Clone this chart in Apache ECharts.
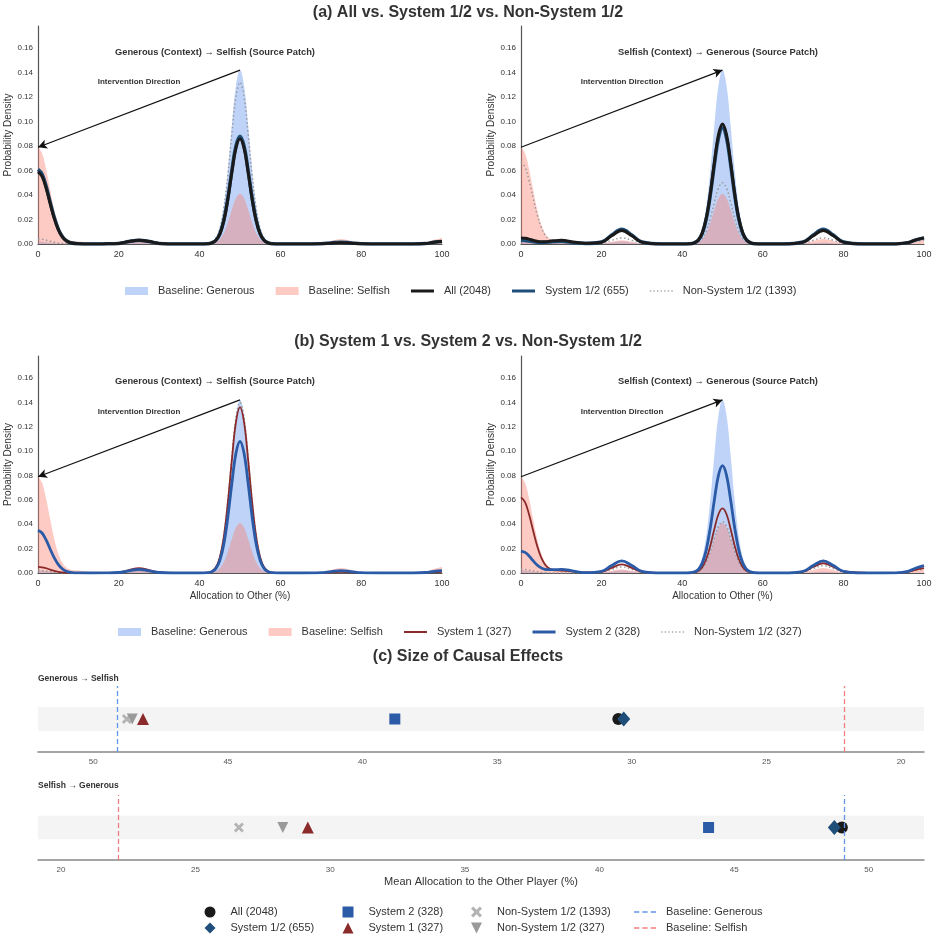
<!DOCTYPE html>
<html>
<head>
<meta charset="utf-8">
<script src="https://cdn.jsdelivr.net/npm/echarts@6/dist/echarts.min.js"></script>
<style>
  html, body { margin: 0; padding: 0; background: #fff; }
  #main { width: 937px; height: 940px; }
</style>
</head>
<body>
<div id="main"></div>
<script>
var FONT = 'Liberation Sans, Arial, sans-serif';

// shared x grid of the density curves (allocation to other, %)
var xs = [0, 1, 2, 3, 4, 5, 6, 7, 8, 10, 13, 16, 20, 22.5, 25, 27.5, 30, 35, 40,
  42, 43, 44, 45, 46, 47, 48, 49, 50, 51, 52, 53, 54, 55, 56, 57, 58,
  60, 65, 70, 72.5, 75, 77.5, 80, 85, 90, 93, 96, 98, 100];
var yTicks = [0, 0.02, 0.04, 0.06, 0.08, 0.10, 0.12, 0.14, 0.16];
var cTicks = [20, 25, 30, 35, 40, 45, 50];

// baselines (same in all four panels)
var baseGenerous = [0.002, 0.0019, 0.0015, 0.0011, 0.0007, 0.0004, 0.0002, 0.0001, 0,
  0, 0, 0, 0.0003, 0.0012, 0.002, 0.0012, 0.0003, 0, 0,
  0.0003, 0.0014, 0.0047, 0.0133, 0.0312, 0.0606, 0.0973, 0.1292, 0.142, 0.1292, 0.0973, 0.0606, 0.0312, 0.0133, 0.0047, 0.0014, 0.0003,
  0, 0, 0.0002, 0.0006, 0.001, 0.0006, 0.0002, 0, 0, 0, 0, 0, 0.0005];
var baseSelfish = [0.079, 0.0741, 0.0612, 0.0445, 0.0284, 0.0163, 0.0086, 0.0045, 0.0028,
  0.002, 0.001, 0.0002, 0.0004, 0.0018, 0.003, 0.0018, 0.0004, 0, 0,
  0.0001, 0.0004, 0.0014, 0.0039, 0.009, 0.0175, 0.0281, 0.0373, 0.041, 0.0373, 0.0281, 0.0175, 0.009, 0.0039, 0.0014, 0.0004, 0.0001,
  0, 0, 0.0005, 0.0024, 0.004, 0.0024, 0.0005, 0, 0, 0.0001, 0.0011, 0.0034, 0.005];

// (a) left: Generous -> Selfish
var aLeftAll = [0.059, 0.0553, 0.0457, 0.0332, 0.0212, 0.012, 0.006, 0.0026, 0.001,
  0.0002, 0, 0.0001, 0.0005, 0.002, 0.003, 0.002, 0.0005, 0, 0,
  0.0002, 0.0008, 0.0028, 0.0081, 0.0189, 0.0367, 0.0589, 0.0783, 0.086, 0.0783, 0.0589, 0.0367, 0.0189, 0.0081, 0.0028, 0.0008, 0.0002,
  0, 0, 0.0002, 0.0007, 0.001, 0.0007, 0.0002, 0, 0, 0, 0.0004, 0.0014, 0.002];
var aLeftSys12 = [0.061, 0.0572, 0.0473, 0.0343, 0.022, 0.0124, 0.0062, 0.0027, 0.001,
  0.0002, 0, 0.0001, 0.0005, 0.002, 0.003, 0.002, 0.0005, 0, 0,
  0.0002, 0.0009, 0.0029, 0.0083, 0.0194, 0.0376, 0.0603, 0.0801, 0.088, 0.0801, 0.0603, 0.0376, 0.0194, 0.0083, 0.0029, 0.0009, 0.0002,
  0, 0, 0.0002, 0.0009, 0.0015, 0.0009, 0.0002, 0, 0, 0, 0.0004, 0.0014, 0.002];
var aLeftNonSys = [0.004, 0.0038, 0.0031, 0.0023, 0.0014, 0.0008, 0.0004, 0.0002, 0.0001,
  0, 0, 0, 0.0003, 0.0012, 0.002, 0.0012, 0.0003, 0, 0,
  0.0003, 0.0013, 0.0044, 0.0124, 0.029, 0.0564, 0.0904, 0.1201, 0.132, 0.1201, 0.0904, 0.0564, 0.029, 0.0124, 0.0044, 0.0013, 0.0003,
  0, 0, 0.0001, 0.0005, 0.0008, 0.0005, 0.0001, 0, 0, 0, 0.0002, 0.0007, 0.001];

// (a) right: Selfish -> Generous
var aRightAll = [0.005, 0.0047, 0.004, 0.003, 0.0022, 0.0018, 0.0019, 0.0022, 0.0026,
  0.003, 0.0017, 0.0006, 0.0015, 0.0067, 0.011, 0.0067, 0.0015, 0, 0,
  0.0002, 0.001, 0.0032, 0.0092, 0.0216, 0.0418, 0.0671, 0.0892, 0.098, 0.0892, 0.0671, 0.0418, 0.0216, 0.0092, 0.0032, 0.001, 0.0002,
  0, 0, 0.0015, 0.0067, 0.011, 0.0067, 0.0015, 0, 0, 0.0001, 0.0011, 0.0034, 0.005];
var aRightSys12 = [0.003, 0.0028, 0.0024, 0.0019, 0.0015, 0.0013, 0.0014, 0.0016, 0.0018,
  0.002, 0.0011, 0.0004, 0.0016, 0.0073, 0.012, 0.0073, 0.0016, 0, 0,
  0.0002, 0.0009, 0.0031, 0.0089, 0.0209, 0.0406, 0.0651, 0.0865, 0.095, 0.0865, 0.0651, 0.0406, 0.0209, 0.0089, 0.0031, 0.0009, 0.0002,
  0, 0, 0.0016, 0.0073, 0.012, 0.0073, 0.0016, 0, 0, 0.0001, 0.0011, 0.0034, 0.005];
var aRightNonSys = [0.067, 0.0628, 0.0519, 0.0377, 0.0241, 0.0138, 0.0072, 0.0036, 0.002,
  0.002, 0.001, 0.0002, 0.0007, 0.003, 0.005, 0.003, 0.0007, 0, 0,
  0.0001, 0.0005, 0.0017, 0.0047, 0.011, 0.0214, 0.0343, 0.0455, 0.05, 0.0455, 0.0343, 0.0214, 0.011, 0.0047, 0.0017, 0.0005, 0.0001,
  0, 0, 0.0007, 0.003, 0.005, 0.003, 0.0007, 0, 0, 0, 0.0007, 0.0021, 0.003];

// (b) left: Generous -> Selfish
var bLeftSys1 = [0.005, 0.0047, 0.0039, 0.0028, 0.0018, 0.001, 0.0005, 0.0002, 0.0001,
  0, 0, 0, 0.0005, 0.0024, 0.004, 0.0024, 0.0005, 0, 0,
  0.0003, 0.0013, 0.0045, 0.0128, 0.0299, 0.0581, 0.0932, 0.1238, 0.136, 0.1238, 0.0932, 0.0581, 0.0299, 0.0128, 0.0045, 0.0013, 0.0003,
  0, 0, 0.0001, 0.0006, 0.001, 0.0006, 0.0001, 0, 0, 0, 0.0002, 0.0007, 0.001];
var bLeftSys2 = [0.035, 0.0328, 0.0271, 0.0197, 0.0126, 0.0071, 0.0035, 0.0015, 0.0006,
  0.0001, 0, 0.0001, 0.0004, 0.0018, 0.003, 0.0018, 0.0004, 0, 0,
  0.0003, 0.001, 0.0036, 0.0102, 0.0238, 0.0461, 0.074, 0.0983, 0.108, 0.0983, 0.074, 0.0461, 0.0238, 0.0102, 0.0036, 0.001, 0.0003,
  0, 0, 0.0003, 0.0012, 0.002, 0.0012, 0.0003, 0, 0, 0, 0.0004, 0.0014, 0.002];
var bLeftNonSys = [0.002, 0.0019, 0.0015, 0.0011, 0.0007, 0.0004, 0.0002, 0.0001, 0,
  0, 0, 0, 0.0003, 0.0012, 0.002, 0.0012, 0.0003, 0, 0,
  0.0003, 0.0014, 0.0046, 0.0132, 0.0308, 0.0598, 0.0959, 0.1274, 0.14, 0.1274, 0.0959, 0.0598, 0.0308, 0.0132, 0.0046, 0.0014, 0.0003,
  0, 0, 0.0001, 0.0005, 0.0008, 0.0005, 0.0001, 0, 0, 0, 0.0002, 0.0007, 0.001];

// (b) right: Selfish -> Generous
var bRightSys1 = [0.062, 0.0582, 0.048, 0.0349, 0.0223, 0.0128, 0.0068, 0.0036, 0.0024,
  0.002, 0.0012, 0.0004, 0.0009, 0.0042, 0.007, 0.0042, 0.0009, 0, 0,
  0.0001, 0.0005, 0.0017, 0.005, 0.0117, 0.0226, 0.0363, 0.0482, 0.053, 0.0482, 0.0363, 0.0226, 0.0117, 0.005, 0.0017, 0.0005, 0.0001,
  0, 0, 0.0011, 0.0049, 0.008, 0.0049, 0.0015, 0.0003, 0, 0.0001, 0.0009, 0.0027, 0.004];
var bRightSys2 = [0.018, 0.0169, 0.014, 0.0101, 0.0066, 0.0042, 0.003, 0.0027, 0.0027,
  0.003, 0.0016, 0.0003, 0.0014, 0.0061, 0.01, 0.0061, 0.0014, 0, 0,
  0.0002, 0.0009, 0.0029, 0.0083, 0.0194, 0.0376, 0.0603, 0.0801, 0.088, 0.0801, 0.0603, 0.0376, 0.0194, 0.0083, 0.0029, 0.0009, 0.0002,
  0, 0, 0.0014, 0.0061, 0.01, 0.0061, 0.0014, 0, 0, 0.0001, 0.0013, 0.0041, 0.006];
var bRightNonSys = [0.003, 0.0028, 0.0023, 0.0017, 0.0011, 0.0006, 0.0003, 0.0001, 0,
  0, 0, 0, 0.0007, 0.003, 0.005, 0.003, 0.0007, 0, 0,
  0.0001, 0.0004, 0.0014, 0.0039, 0.0092, 0.0179, 0.0288, 0.0382, 0.042, 0.0382, 0.0288, 0.0179, 0.0092, 0.0039, 0.0014, 0.0004, 0.0001,
  0, 0, 0.0008, 0.0036, 0.006, 0.0036, 0.0008, 0, 0, 0, 0.0007, 0.0021, 0.003];

// arrow ends (x, density)
var arrowPeak = [50, 0.142];
var arrowZero = [0, 0.079];

// (c) mean allocation to the other player
var cNames = ['All (2048)', 'System 1/2 (655)', 'System 2 (328)', 'System 1 (327)',
  'Non-System 1/2 (1393)', 'Non-System 1/2 (327)'];
var genToSelfMeans = [30.5, 30.3, 38.8, 48.15, 48.75, 48.55];
var selfToGenMeans = [49.0, 48.72, 44.05, 29.17, 26.61, 28.24];
var baselineMeans = [49.1, 22.12]; // generous, selfish

var BLUE_FILL = 'rgba(100,149,237,0.42)';
var PINK_FILL = 'rgba(250,128,114,0.42)';
var C_ALL = '#1a1a1a', C_S12 = '#1f4e79', C_S2 = '#2b5aa6', C_S1 = '#8b2a2a', C_NS = '#9a9a9a';
var C_BG = '#6495ed', C_BS = '#f08080';

var xPath = 'path://M2,0 L5,3 L8,0 L10,2 L7,5 L10,8 L8,10 L5,7 L2,10 L0,8 L3,5 L0,2 Z';
var downTri = 'path://M0,0 L10,0 L5,10 Z';
var cSymbols = ['circle', 'diamond', 'rect', 'triangle', xPath, downTri];
var cColors = [C_ALL, C_S12, C_S2, C_S1, '#b4b4b4', '#9a9a9a'];
var cSizes = [12, [13, 15], 11, 12, 10, 11];

// legend icons drawn as thin bars (line legends)
var barThick = 'path://M0,0 H23 V3 H0 Z';
var barThin = 'path://M0,0 H23 V2 H0 Z';
var dotted = 'path://M0,0h1.4v1.4h-1.4z M3.6,0h1.4v1.4h-1.4z M7.2,0h1.4v1.4h-1.4z M10.8,0h1.4v1.4h-1.4z M14.4,0h1.4v1.4h-1.4z M18,0h1.4v1.4h-1.4z M21.6,0h1.4v1.4h-1.4z';
var dashed = 'path://M0,0h5.5v1.5h-5.5z M8.7,0h5.5v1.5h-5.5z M17.4,0h5.5v1.5h-5.5z';

function pairs(ys) {
  return xs.map(function (x, i) { return [x, ys[i]]; });
}

function area(name, ys, idx, color) {
  return {
    name: name, type: 'line', xAxisIndex: idx, yAxisIndex: idx,
    data: pairs(ys), smooth: 0.4, symbol: 'none', silent: true,
    color: color,
    lineStyle: { width: 0 },
    areaStyle: { color: color, opacity: 1 }
  };
}

function curve(name, ys, idx, color, width, type) {
  return {
    name: name, type: 'line', xAxisIndex: idx, yAxisIndex: idx,
    data: pairs(ys), smooth: 0.4, symbol: 'none', silent: true,
    color: color,
    lineStyle: { color: color, width: width, type: type || 'solid' }
  };
}

function arrow(from, to) {
  return {
    silent: true,
    symbol: ['none', 'arrow'],
    symbolSize: [7, 9],
    label: { show: false },
    lineStyle: { color: '#111', width: 1.2, type: 'solid' },
    data: [[{ coord: from }, { coord: to }]]
  };
}

var grids = [
  { left: 38, top: 26, width: 404, height: 218 },
  { left: 521, top: 26, width: 403, height: 218 },
  { left: 38, top: 356, width: 404, height: 217 },
  { left: 521, top: 356, width: 403, height: 217 },
  { left: 38, top: 686, width: 886, height: 66 },
  { left: 38, top: 795, width: 886, height: 65 }
];

var xAxes = [], yAxes = [];
for (var g = 0; g < 4; g++) {
  xAxes.push({
    gridIndex: g, type: 'value', min: 0, max: 100, interval: 20,
    name: g >= 2 ? 'Allocation to Other (%)' : '',
    nameLocation: 'middle', nameGap: 18,
    nameTextStyle: { fontSize: 10, color: '#333', fontFamily: FONT },
    axisLine: { show: true, onZero: false, lineStyle: { color: '#555', width: 1.2 } },
    axisTick: { show: false },
    splitLine: { show: false },
    axisLabel: { fontSize: 9, color: '#333', margin: 6, fontFamily: FONT }
  });
  yAxes.push({
    gridIndex: g, type: 'value', min: 0, max: 0.178,
    name: 'Probability Density', nameLocation: 'middle', nameGap: g % 2 ? 17 : 19,
    nameTextStyle: { fontSize: 10, color: '#333', fontFamily: FONT },
    axisLine: { show: true, onZero: false, lineStyle: { color: '#555', width: 1.2 } },
    axisTick: { show: false },
    splitLine: { show: false },
    axisLabel: {
      fontSize: 8, color: '#333', margin: 5, fontFamily: FONT,
      customValues: yTicks,
      formatter: function (v) { return v.toFixed(2); }
    }
  });
}
for (var c = 4; c < 6; c++) {
  xAxes.push({
    gridIndex: c, type: 'value', min: 19.15, max: 52.05, inverse: c === 4,
    name: c === 5 ? 'Mean Allocation to the Other Player (%)' : '',
    nameLocation: 'middle', nameGap: 16,
    nameTextStyle: { fontSize: 11, color: '#333', fontFamily: FONT },
    axisLine: { show: true, onZero: false, lineStyle: { color: '#888', width: 1.5 } },
    axisTick: { show: false },
    splitLine: { show: false },
    axisLabel: { fontSize: 8, color: '#555', margin: 6, fontFamily: FONT, customValues: cTicks }
  });
  yAxes.push({ gridIndex: c, type: 'value', min: -1, max: 1, show: false });
}

var series = [];
var panels = [
  { idx: 0, curves: [['Non-System 1/2 (1393)', aLeftNonSys, C_NS, 1.5, [1.5, 2.5]], ['System 1/2 (655)', aLeftSys12, C_S12, 3.5], ['All (2048)', aLeftAll, C_ALL, 3]], arrow: [arrowPeak, arrowZero] },
  { idx: 1, curves: [['Non-System 1/2 (1393)', aRightNonSys, C_NS, 1.5, [1.5, 2.5]], ['System 1/2 (655)', aRightSys12, C_S12, 3.5], ['All (2048)', aRightAll, C_ALL, 3]], arrow: [arrowZero, arrowPeak] },
  { idx: 2, curves: [['Non-System 1/2 (327)', bLeftNonSys, C_NS, 1.5, [1.5, 2.5]], ['System 1 (327)', bLeftSys1, C_S1, 1.8], ['System 2 (328)', bLeftSys2, C_S2, 2.8]], arrow: [arrowPeak, arrowZero] },
  { idx: 3, curves: [['Non-System 1/2 (327)', bRightNonSys, C_NS, 1.5, [1.5, 2.5]], ['System 1 (327)', bRightSys1, C_S1, 1.8], ['System 2 (328)', bRightSys2, C_S2, 2.8]], arrow: [arrowZero, arrowPeak] }
];
panels.forEach(function (p) {
  series.push(area('Baseline: Generous', baseGenerous, p.idx, BLUE_FILL));
  series.push(area('Baseline: Selfish', baseSelfish, p.idx, PINK_FILL));
  p.curves.forEach(function (cv, k) {
    var s = curve(cv[0], cv[1], p.idx, cv[2], cv[3], cv[4]);
    if (k === p.curves.length - 1) s.markLine = arrow(p.arrow[0], p.arrow[1]);
    series.push(s);
  });
});

// (c) effect sizes: one scatter per group per direction
[genToSelfMeans, selfToGenMeans].forEach(function (means, r) {
  var idx = 4 + r;
  cNames.forEach(function (nm, i) {
    var s = {
      name: nm + ' ', type: 'scatter', xAxisIndex: idx, yAxisIndex: idx,
      data: [[means[i], 0]], symbol: cSymbols[i], symbolSize: cSizes[i],
      itemStyle: { color: cColors[i], opacity: 1 }, silent: true
    };
    if (i === 0) {
      s.markArea = {
        silent: true, itemStyle: { color: '#f4f4f4' },
        data: [[{ yAxis: -0.36 }, { yAxis: 0.36 }]]
      };
    }
    series.push(s);
  });
  [['Baseline: Generous ', C_BG, baselineMeans[0]], ['Baseline: Selfish ', C_BS, baselineMeans[1]]].forEach(function (b) {
    series.push({
      name: b[0], type: 'line', xAxisIndex: idx, yAxisIndex: idx, data: [],
      symbol: 'none', color: b[1],
      lineStyle: { color: b[1], width: 1.5, type: [5, 3] },
      markLine: {
        silent: true, symbol: ['none', 'none'], label: { show: false },
        lineStyle: { color: b[1], width: 1.3, type: [5, 3] },
        data: [{ xAxis: b[2] }]
      }
    });
  });
});

var legendText = { fontSize: 11, color: '#333', fontFamily: FONT, lineHeight: 14, padding: [0, 0, 0, 5] };
function iconItem(name, icon, color) {
  return { name: name, icon: icon, itemStyle: { color: color, borderWidth: 0 } };
}
function cLegend(left, names, width, pad) {
  return {
    left: left, top: 905, orient: 'vertical', padding: 0, itemGap: 2,
    itemWidth: width, itemHeight: 11, selectedMode: false,
    textStyle: { fontSize: 11, color: '#333', fontFamily: FONT, lineHeight: 14, padding: [0, 0, 0, pad] },
    formatter: function (n) { return n.trim(); },
    data: names
  };
}

var legends = [
  {
    left: 125, top: 284, padding: 0, itemGap: 21, itemWidth: 23, itemHeight: 8, selectedMode: false,
    textStyle: legendText,
    data: [iconItem('Baseline: Generous', 'rect', BLUE_FILL), iconItem('Baseline: Selfish', 'rect', PINK_FILL),
      iconItem('All (2048)', barThick, C_ALL), iconItem('System 1/2 (655)', barThick, C_S12),
      iconItem('Non-System 1/2 (1393)', dotted, '#aaa')]
  },
  {
    left: 118, top: 625, padding: 0, itemGap: 21, itemWidth: 23, itemHeight: 8, selectedMode: false,
    textStyle: legendText,
    data: [iconItem('Baseline: Generous', 'rect', BLUE_FILL), iconItem('Baseline: Selfish', 'rect', PINK_FILL),
      iconItem('System 1 (327)', barThin, C_S1), iconItem('System 2 (328)', barThick, C_S2),
      iconItem('Non-System 1/2 (327)', dotted, '#aaa')]
  },
  cLegend(204.5, ['All (2048) ', 'System 1/2 (655) '], 11, 10),
  cLegend(342.5, ['System 2 (328) ', 'System 1 (327) '], 11, 10),
  cLegend(471, ['Non-System 1/2 (1393) ', 'Non-System 1/2 (327) '], 11, 10),
  {
    left: 634, top: 905, orient: 'vertical', padding: 0, itemGap: 2,
    itemWidth: 22, itemHeight: 11, selectedMode: false,
    textStyle: { fontSize: 11, color: '#333', fontFamily: FONT, lineHeight: 14, padding: [0, 0, 0, 5] },
    formatter: function (n) { return n.trim(); },
    data: [iconItem('Baseline: Generous ', dashed, C_BG), iconItem('Baseline: Selfish ', dashed, C_BS)]
  }
];

function label(text, x, y, size, align) {
  return {
    type: 'text', x: x, y: y, silent: true, z: 100,
    style: {
      text: text, fill: '#333', fontSize: size, fontWeight: 'bold', fontFamily: FONT,
      align: align || 'center', verticalAlign: 'middle',
      textAlign: align || 'center', textVerticalAlign: 'middle'
    }
  };
}

var graphics = [
  label('(a) All vs. System 1/2 vs. Non-System 1/2', 468, 13, 16),
  label('Generous (Context) \u2192 Selfish (Source Patch)', 215, 52, 9.3),
  label('Selfish (Context) \u2192 Generous (Source Patch)', 718, 52, 9.3),
  label('Intervention Direction', 139, 82, 8),
  label('Intervention Direction', 622, 82, 8),
  label('(b) System 1 vs. System 2 vs. Non-System 1/2', 468, 342, 16),
  label('Generous (Context) \u2192 Selfish (Source Patch)', 215, 381, 9.3),
  label('Selfish (Context) \u2192 Generous (Source Patch)', 718, 381, 9.3),
  label('Intervention Direction', 139, 412, 8),
  label('Intervention Direction', 622, 412, 8),
  label('(c) Size of Causal Effects', 468, 657, 16),
  label('Generous \u2192 Selfish', 38, 679, 8.5, 'left'),
  label('Selfish \u2192 Generous', 38, 786, 8.5, 'left')
];

var option = {
  animation: false,
  backgroundColor: '#fff',
  textStyle: { fontFamily: FONT },
  grid: grids,
  xAxis: xAxes,
  yAxis: yAxes,
  legend: legends,
  graphic: { elements: graphics },
  series: series
};

var chart = echarts.init(document.getElementById('main'), null, { renderer: 'canvas' });
chart.setOption(option);
</script>
</body>
</html>
